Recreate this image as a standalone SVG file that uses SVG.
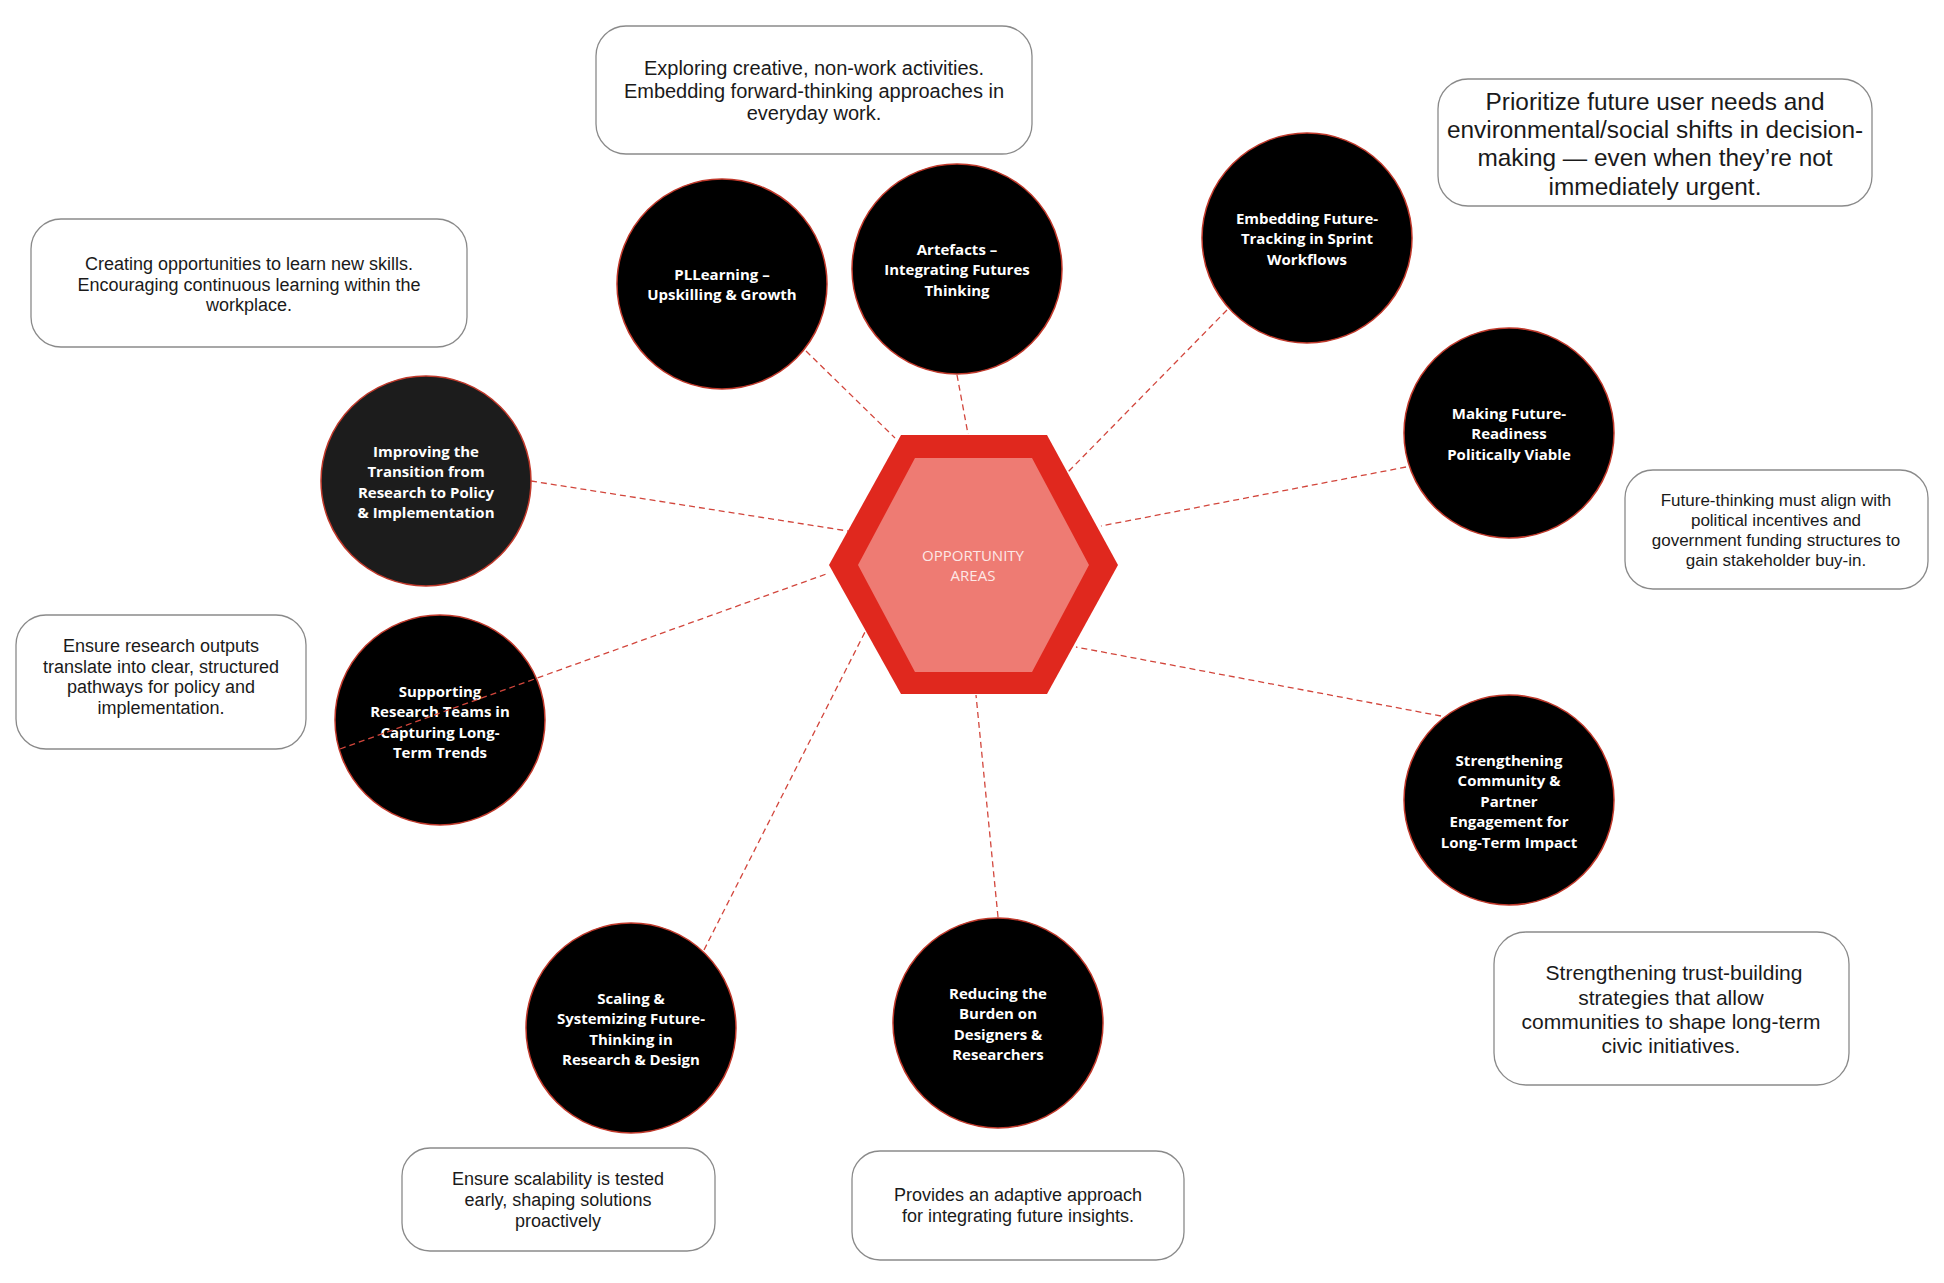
<svg xmlns="http://www.w3.org/2000/svg" width="1944" height="1283" viewBox="0 0 1944 1283">
<style>
.box{fill:#fff;stroke:#8a8a8a;stroke-width:1.3}
.bt{font-family:"Liberation Sans",Arial,sans-serif;fill:#1a1a1a;text-anchor:middle}
.circ{fill:#000;stroke:#c0392b;stroke-width:1.5}
.ct{font-family:"Open Sans","Noto Sans",sans-serif;font-weight:700;font-size:15px;fill:#fff;text-anchor:middle}
.con{stroke:#d2463c;stroke-width:1.3;stroke-dasharray:6 4;fill:none}
</style>
<rect width="1944" height="1283" fill="#fff"/>

<g id="hub">
<polygon points="829,565 901,435 1047,435 1118,565 1047,694 901,694" fill="#e0281e"/>
<polygon points="858,565 915,458 1032,458 1089,565 1032,672 915,672" fill="#ee7b73"/>
<text font-family="'Open Sans','Noto Sans',sans-serif" font-weight="400" font-size="15" fill="#fde8e6" text-anchor="middle"><tspan x="973" y="561">OPPORTUNITY</tspan><tspan x="973" y="581">AREAS</tspan></text>
</g>

<g id="box-top"><rect class="box" x="596" y="26" width="436" height="128" rx="30"/>
<text class="bt" font-size="20"><tspan x="814" y="75">Exploring creative, non-work activities.</tspan><tspan x="814" y="97.5">Embedding forward-thinking approaches in</tspan><tspan x="814" y="120">everyday work.</tspan></text></g>

<g id="box-topright"><rect class="box" x="1438" y="79" width="434" height="127" rx="30"/>
<text class="bt" font-size="24.4"><tspan x="1655" y="110">Prioritize future user needs and</tspan><tspan x="1655" y="138">environmental/social shifts in decision-</tspan><tspan x="1655" y="166">making — even when they’re not</tspan><tspan x="1655" y="194.5">immediately urgent.</tspan></text></g>

<g id="box-creating"><rect class="box" x="31" y="219" width="436" height="128" rx="30"/>
<text class="bt" font-size="18"><tspan x="249" y="270">Creating opportunities to learn new skills.</tspan><tspan x="249" y="290.5">Encouraging continuous learning within the</tspan><tspan x="249" y="311">workplace.</tspan></text></g>

<g id="box-research"><rect class="box" x="16" y="615" width="290" height="134" rx="30"/>
<text class="bt" font-size="18"><tspan x="161" y="652">Ensure research outputs</tspan><tspan x="161" y="673">translate into clear, structured</tspan><tspan x="161" y="693">pathways for policy and</tspan><tspan x="161" y="714">implementation.</tspan></text></g>

<g id="box-political"><rect class="box" x="1625" y="470" width="303" height="119" rx="28"/>
<text class="bt" font-size="17"><tspan x="1776" y="506">Future-thinking must align with</tspan><tspan x="1776" y="525.5">political incentives and</tspan><tspan x="1776" y="545.5">government funding structures to</tspan><tspan x="1776" y="566">gain stakeholder buy-in.</tspan></text></g>

<g id="box-trust"><rect class="box" x="1494" y="932" width="355" height="153" rx="32"/>
<text class="bt" font-size="21"><tspan x="1674" y="980">Strengthening trust-building</tspan><tspan x="1671" y="1004.5">strategies that allow</tspan><tspan x="1671" y="1029">communities to shape long-term</tspan><tspan x="1671" y="1053">civic initiatives.</tspan></text></g>

<g id="box-scalability"><rect class="box" x="402" y="1148" width="313" height="103" rx="28"/>
<text class="bt" font-size="18"><tspan x="558" y="1185">Ensure scalability is tested</tspan><tspan x="558" y="1206">early, shaping solutions</tspan><tspan x="558" y="1227">proactively</tspan></text></g>

<g id="box-adaptive"><rect class="box" x="852" y="1151" width="332" height="109" rx="28"/>
<text class="bt" font-size="18"><tspan x="1018" y="1201">Provides an adaptive approach</tspan><tspan x="1018" y="1222">for integrating future insights.</tspan></text></g>

<g id="node-pllearning"><circle class="circ" cx="722" cy="284" r="105"/>
<text class="ct"><tspan x="722" y="279.5">PLLearning –</tspan><tspan x="722" y="300">Upskilling &amp; Growth</tspan></text></g>

<g id="node-artefacts"><circle class="circ" cx="957" cy="269" r="105"/>
<text class="ct"><tspan x="957" y="254.5">Artefacts –</tspan><tspan x="957" y="275">Integrating Futures</tspan><tspan x="957" y="295.5">Thinking</tspan></text></g>

<g id="node-embedding"><circle class="circ" cx="1307" cy="238" r="105"/>
<text class="ct"><tspan x="1307" y="223.5">Embedding Future-</tspan><tspan x="1307" y="244">Tracking in Sprint</tspan><tspan x="1307" y="264.5">Workflows</tspan></text></g>

<g id="node-making"><circle class="circ" cx="1509" cy="433" r="105"/>
<text class="ct"><tspan x="1509" y="418.5">Making Future-</tspan><tspan x="1509" y="439">Readiness</tspan><tspan x="1509" y="459.5">Politically Viable</tspan></text></g>

<g id="node-strengthening"><circle class="circ" cx="1509" cy="800" r="105"/>
<text class="ct"><tspan x="1509" y="765.5">Strengthening</tspan><tspan x="1509" y="786">Community &amp;</tspan><tspan x="1509" y="806.5">Partner</tspan><tspan x="1509" y="827">Engagement for</tspan><tspan x="1509" y="847.5">Long-Term Impact</tspan></text></g>

<g id="node-reducing"><circle class="circ" cx="998" cy="1023" r="105"/>
<text class="ct"><tspan x="998" y="998.5">Reducing the</tspan><tspan x="998" y="1019">Burden on</tspan><tspan x="998" y="1039.5">Designers &amp;</tspan><tspan x="998" y="1060">Researchers</tspan></text></g>

<g id="node-scaling"><circle class="circ" cx="631" cy="1028" r="105"/>
<text class="ct"><tspan x="631" y="1003.5">Scaling &amp;</tspan><tspan x="631" y="1024">Systemizing Future-</tspan><tspan x="631" y="1044.5">Thinking in</tspan><tspan x="631" y="1065">Research &amp; Design</tspan></text></g>

<g id="node-supporting"><circle class="circ" cx="440" cy="720" r="105"/>
<text class="ct"><tspan x="440" y="696.5">Supporting</tspan><tspan x="440" y="717">Research Teams in</tspan><tspan x="440" y="737.5">Capturing Long-</tspan><tspan x="440" y="758">Term Trends</tspan></text></g>

<g id="node-improving"><circle class="circ" cx="426" cy="481" r="105" style="fill:#1c1c1c"/>
<text class="ct"><tspan x="426" y="456.5">Improving the</tspan><tspan x="426" y="477">Transition from</tspan><tspan x="426" y="497.5">Research to Policy</tspan><tspan x="426" y="518">&amp; Implementation</tspan></text></g>

<g id="connectors">
<line class="con" x1="806" y1="351" x2="895" y2="438"/>
<line class="con" x1="957" y1="375" x2="968" y2="434"/>
<line class="con" x1="1227" y1="310" x2="1068" y2="472"/>
<line class="con" x1="1406" y1="467" x2="1101" y2="526"/>
<line class="con" x1="1441" y1="716" x2="1076" y2="647"/>
<line class="con" x1="998" y1="917" x2="976" y2="695"/>
<line class="con" x1="704" y1="950" x2="865" y2="632"/>
<line class="con" x1="340" y1="749" x2="829" y2="573"/>
<line class="con" x1="531" y1="481" x2="848" y2="531"/>
</g>
</svg>
